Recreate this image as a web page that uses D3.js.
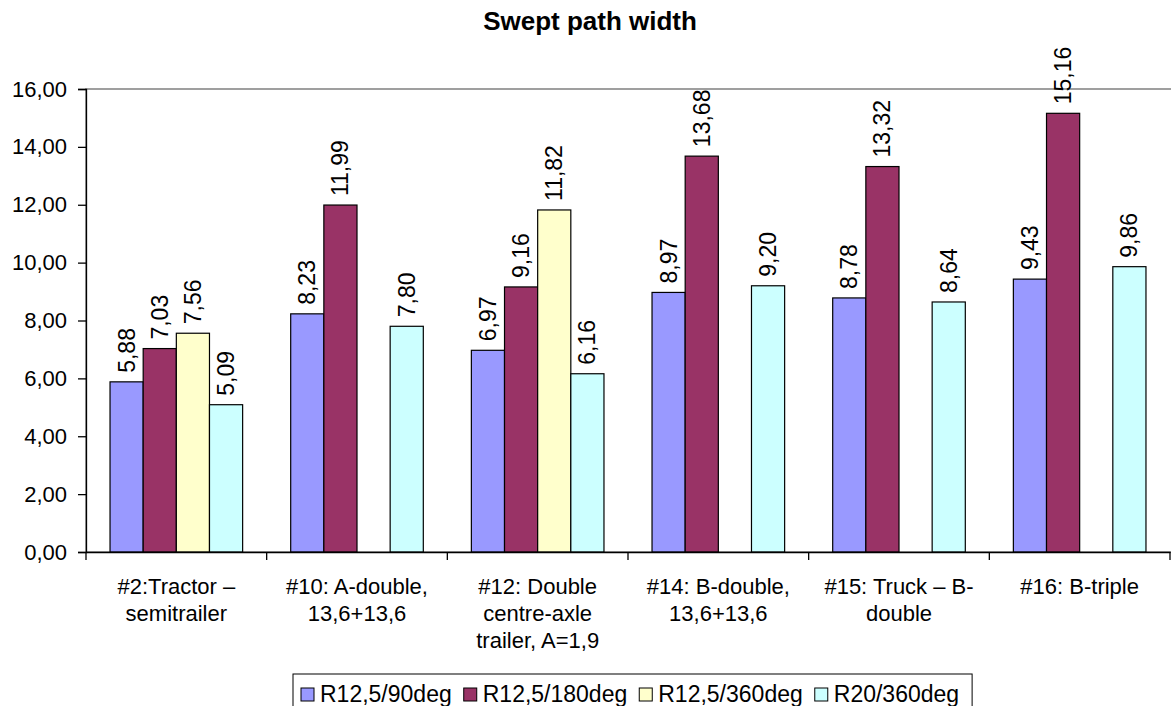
<!DOCTYPE html>
<html>
<head>
<meta charset="utf-8">
<script src="https://cdn.jsdelivr.net/npm/d3@7"></script>
<style>
  html, body { margin: 0; padding: 0; background: #fff; }
  svg { display: block; font-family: "Liberation Sans", Arial, sans-serif; }
</style>
</head>
<body>
<svg id="chart" width="1171" height="706"></svg>
<script>
// Category labels (one entry per line of the label)
const categories = [
  ["#2:Tractor \u2013", "semitrailer"],
  ["#10: A-double,", "13,6+13,6"],
  ["#12: Double", "centre-axle", "trailer, A=1,9"],
  ["#14: B-double,", "13,6+13,6"],
  ["#15: Truck \u2013 B-", "double"],
  ["#16: B-triple"]
];
const seriesNames = ["R12,5/90deg", "R12,5/180deg", "R12,5/360deg", "R20/360deg"];
const seriesColors = ["#9999FF", "#993366", "#FFFFCC", "#CCFFFF"];
const r125_90  = [5.88, 8.23, 6.97, 8.97, 8.78, 9.43];
const r125_180 = [7.03, 11.99, 9.16, 13.68, 13.32, 15.16];
const r125_360 = [7.56, null, 11.82, null, null, null];
const r20_360  = [5.09, 7.80, 6.16, 9.20, 8.64, 9.86];
const yTicks = [0, 2, 4, 6, 8, 10, 12, 14, 16];
const titleText = "Swept path width";

const seriesValues = [r125_90, r125_180, r125_360, r20_360];

const svg = d3.select("#chart");
const fmt = v => v.toFixed(2).replace(".", ",");

const plot = { left: 86, right: 1170, top: 89, bottom: 552 };

const x = d3.scaleBand().domain(d3.range(categories.length))
  .range([plot.left, plot.right]).padding(0);
const groupPad = x.bandwidth() * 0.133;
const xs = d3.scaleBand().domain(d3.range(seriesNames.length))
  .range([groupPad, x.bandwidth() - groupPad]).padding(0);
const y = d3.scaleLinear().domain([0, 16]).range([plot.bottom, plot.top]);

function label(g, tx, ty, str, opts = {}) {
  const t = g.append("text")
    .attr("transform", `translate(${tx},${ty})` + (opts.rotate ? ` rotate(${opts.rotate})` : ""))
    .attr("font-size", opts.size || 22)
    .attr("font-weight", opts.weight || "normal")
    .attr("text-anchor", opts.anchor || "start")
    .attr("fill", "#000")
    .text(str);
  if (opts.baseline) t.attr("dominant-baseline", opts.baseline);
  return t;
}

// plot area frame (only the top edge shows; the axes cover the rest)
svg.append("rect")
  .attr("x", plot.left).attr("y", plot.top)
  .attr("width", plot.right - plot.left + 10).attr("height", plot.bottom - plot.top)
  .attr("fill", "none").attr("stroke", "#808080").attr("stroke-width", 1.5);

// bars
const bars = svg.append("g");
seriesValues.forEach((vals, si) => {
  vals.forEach((v, ci) => {
    if (v == null) return;
    bars.append("rect")
      .attr("x", x(ci) + xs(si))
      .attr("y", y(v))
      .attr("width", xs.bandwidth())
      .attr("height", y(0) - y(v))
      .attr("fill", seriesColors[si])
      .attr("stroke", "#000").attr("stroke-width", 1.2);
  });
});

// value labels, rotated above each bar
const labels = svg.append("g");
seriesValues.forEach((vals, si) => {
  vals.forEach((v, ci) => {
    if (v == null) return;
    const cx = x(ci) + xs(si) + xs.bandwidth() / 2;
    label(labels, cx, y(v) - 9, fmt(v), { rotate: -90, size: 23, baseline: "central" });
  });
});

// y axis
const yAxis = d3.axisLeft(y).tickValues(yTicks).tickSize(8).tickFormat(() => "");
const ya = svg.append("g").attr("transform", `translate(${plot.left},0)`).call(yAxis);
ya.select(".domain").attr("stroke", "#000").attr("stroke-width", 1.3);
ya.selectAll(".tick line").attr("stroke", "#000").attr("stroke-width", 1.3);
yTicks.forEach(t => {
  label(svg, 67, y(t), fmt(t), { anchor: "end", size: 22, baseline: "central" });
});

// x axis
const xAxis = d3.axisBottom(x).tickSize(0).tickFormat(() => "");
const xa = svg.append("g").attr("transform", `translate(0,${plot.bottom})`).call(xAxis);
xa.select(".domain").attr("stroke", "#000").attr("stroke-width", 1.3);
const catTicks = d3.range(categories.length + 1).map(i => plot.left + i * x.bandwidth());
svg.append("g").selectAll("line").data(catTicks).join("line")
  .attr("x1", d => d).attr("x2", d => d)
  .attr("y1", plot.bottom).attr("y2", plot.bottom + 8)
  .attr("stroke", "#000").attr("stroke-width", 1.3);

categories.forEach((lines, ci) => {
  const cx = x(ci) + x.bandwidth() / 2;
  lines.forEach((ln, li) => {
    label(svg, cx, 594 + li * 27, ln, { anchor: "middle", size: 22 });
  });
});

// title
label(svg, 590, 30, titleText, { anchor: "middle", size: 26, weight: "bold" });

// legend
const lg = svg.append("g");
const legendBox = lg.append("rect")
  .attr("fill", "#fff").attr("stroke", "#000").attr("stroke-width", 1);
let lx = 301;
const ly = 702;
seriesNames.forEach((name, i) => {
  lg.append("rect").attr("x", lx).attr("y", ly - 14).attr("width", 13).attr("height", 13)
    .attr("fill", seriesColors[i]).attr("stroke", "#000").attr("stroke-width", 1);
  const t = label(lg, lx + 19, ly, name, { size: 23 });
  const w = t.node().getComputedTextLength();
  lx += 19 + w + 12;
});
legendBox.attr("x", 293).attr("y", 674).attr("width", lx - 293 + 1).attr("height", 40);
</script>
</body>
</html>
